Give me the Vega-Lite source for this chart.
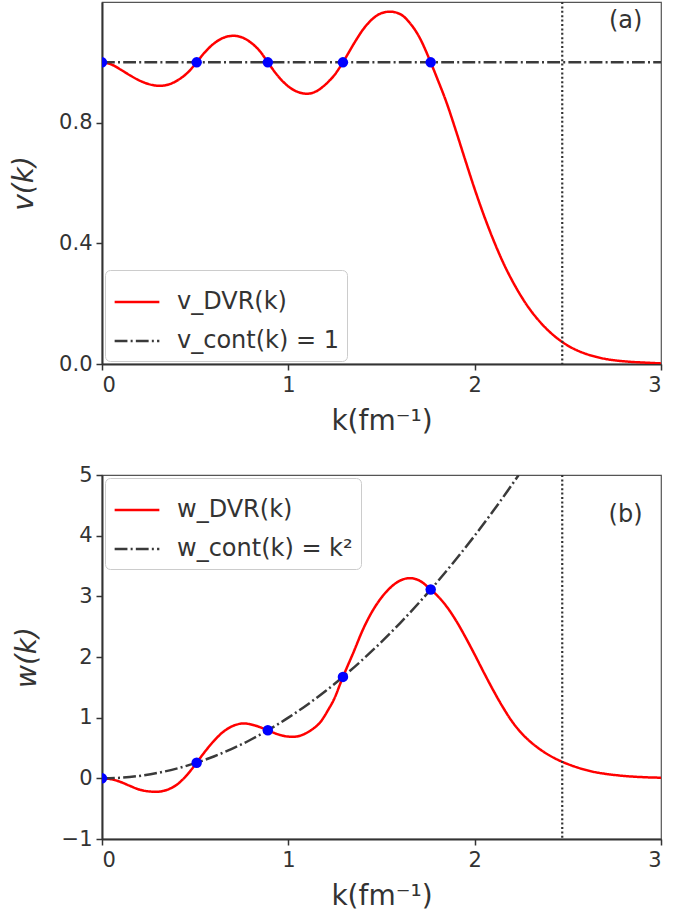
{
  "$schema": "https://vega.github.io/schema/vega-lite/v6.json",
  "padding": {"left": 10, "top": 0, "right": 5, "bottom": 2},
  "spacing": 27,
  "config": {
    "font": "DejaVu Sans",
    "view": {"stroke": "#555555", "strokeWidth": 1.2},
    "axis": {
      "grid": false,
      "domainColor": "#333333",
      "domainWidth": 2,
      "tickColor": "#333333",
      "tickWidth": 1.5,
      "tickSize": 6,
      "labelFontSize": 21,
      "labelColor": "#333333",
      "labelPadding": 4,
      "titleFontSize": 28,
      "titleColor": "#333333",
      "titleFontWeight": "normal"
    },
    "legend": {
      "title": null,
      "fillColor": "white",
      "strokeColor": "#cccccc",
      "cornerRadius": 5,
      "padding": 8,
      "symbolType": "stroke",
      "symbolSize": 2000,
      "symbolStrokeWidth": 2.5,
      "labelFontSize": 24,
      "labelColor": "#333333",
      "labelOffset": 16,
      "labelLimit": 400,
      "rowPadding": 3
    }
  },
  "datasets": {
    "top": [
      {"k": 0, "v": 1.0, "series": "v_DVR(k)"},
      {"k": 0.05, "v": 0.993, "series": "v_DVR(k)"},
      {"k": 0.1, "v": 0.976, "series": "v_DVR(k)"},
      {"k": 0.15, "v": 0.957, "series": "v_DVR(k)"},
      {"k": 0.2, "v": 0.94, "series": "v_DVR(k)"},
      {"k": 0.25, "v": 0.928, "series": "v_DVR(k)"},
      {"k": 0.31, "v": 0.922, "series": "v_DVR(k)"},
      {"k": 0.36, "v": 0.927, "series": "v_DVR(k)"},
      {"k": 0.41, "v": 0.942, "series": "v_DVR(k)"},
      {"k": 0.46, "v": 0.966, "series": "v_DVR(k)"},
      {"k": 0.508, "v": 1.0, "series": "v_DVR(k)"},
      {"k": 0.55, "v": 1.032, "series": "v_DVR(k)"},
      {"k": 0.6, "v": 1.062, "series": "v_DVR(k)"},
      {"k": 0.65, "v": 1.081, "series": "v_DVR(k)"},
      {"k": 0.705, "v": 1.088, "series": "v_DVR(k)"},
      {"k": 0.75, "v": 1.083, "series": "v_DVR(k)"},
      {"k": 0.8, "v": 1.065, "series": "v_DVR(k)"},
      {"k": 0.85, "v": 1.035, "series": "v_DVR(k)"},
      {"k": 0.89, "v": 1.0, "series": "v_DVR(k)"},
      {"k": 0.94, "v": 0.958, "series": "v_DVR(k)"},
      {"k": 1.0, "v": 0.92, "series": "v_DVR(k)"},
      {"k": 1.05, "v": 0.902, "series": "v_DVR(k)"},
      {"k": 1.1, "v": 0.896, "series": "v_DVR(k)"},
      {"k": 1.15, "v": 0.904, "series": "v_DVR(k)"},
      {"k": 1.2, "v": 0.927, "series": "v_DVR(k)"},
      {"k": 1.25, "v": 0.96, "series": "v_DVR(k)"},
      {"k": 1.293, "v": 1.0, "series": "v_DVR(k)"},
      {"k": 1.35, "v": 1.06, "series": "v_DVR(k)"},
      {"k": 1.4, "v": 1.108, "series": "v_DVR(k)"},
      {"k": 1.45, "v": 1.143, "series": "v_DVR(k)"},
      {"k": 1.5, "v": 1.163, "series": "v_DVR(k)"},
      {"k": 1.545, "v": 1.168, "series": "v_DVR(k)"},
      {"k": 1.6, "v": 1.16, "series": "v_DVR(k)"},
      {"k": 1.65, "v": 1.132, "series": "v_DVR(k)"},
      {"k": 1.7, "v": 1.087, "series": "v_DVR(k)"},
      {"k": 1.764, "v": 1.0, "series": "v_DVR(k)"},
      {"k": 1.8, "v": 0.945, "series": "v_DVR(k)"},
      {"k": 1.85, "v": 0.865, "series": "v_DVR(k)"},
      {"k": 1.9, "v": 0.772, "series": "v_DVR(k)"},
      {"k": 1.95, "v": 0.675, "series": "v_DVR(k)"},
      {"k": 2.0, "v": 0.58, "series": "v_DVR(k)"},
      {"k": 2.05, "v": 0.492, "series": "v_DVR(k)"},
      {"k": 2.1, "v": 0.412, "series": "v_DVR(k)"},
      {"k": 2.15, "v": 0.34, "series": "v_DVR(k)"},
      {"k": 2.2, "v": 0.278, "series": "v_DVR(k)"},
      {"k": 2.25, "v": 0.224, "series": "v_DVR(k)"},
      {"k": 2.3, "v": 0.178, "series": "v_DVR(k)"},
      {"k": 2.35, "v": 0.14, "series": "v_DVR(k)"},
      {"k": 2.4, "v": 0.108, "series": "v_DVR(k)"},
      {"k": 2.45, "v": 0.082, "series": "v_DVR(k)"},
      {"k": 2.5, "v": 0.061, "series": "v_DVR(k)"},
      {"k": 2.55, "v": 0.045, "series": "v_DVR(k)"},
      {"k": 2.6, "v": 0.033, "series": "v_DVR(k)"},
      {"k": 2.65, "v": 0.024, "series": "v_DVR(k)"},
      {"k": 2.7, "v": 0.017, "series": "v_DVR(k)"},
      {"k": 2.8, "v": 0.009, "series": "v_DVR(k)"},
      {"k": 2.9, "v": 0.005, "series": "v_DVR(k)"},
      {"k": 3.0, "v": 0.002, "series": "v_DVR(k)"},
      {"k": 0, "v": 1.0, "series": "v_cont(k) = 1"},
      {"k": 3.0, "v": 1.0, "series": "v_cont(k) = 1"}
    ],
    "bottom": [
      {"k": 0, "w": 0, "series": "w_DVR(k)"},
      {"k": 0.05, "w": -0.015, "series": "w_DVR(k)"},
      {"k": 0.1, "w": -0.06, "series": "w_DVR(k)"},
      {"k": 0.15, "w": -0.125, "series": "w_DVR(k)"},
      {"k": 0.2, "w": -0.185, "series": "w_DVR(k)"},
      {"k": 0.25, "w": -0.215, "series": "w_DVR(k)"},
      {"k": 0.29, "w": -0.222, "series": "w_DVR(k)"},
      {"k": 0.33, "w": -0.207, "series": "w_DVR(k)"},
      {"k": 0.37, "w": -0.163, "series": "w_DVR(k)"},
      {"k": 0.41, "w": -0.085, "series": "w_DVR(k)"},
      {"k": 0.46, "w": 0.07, "series": "w_DVR(k)"},
      {"k": 0.508, "w": 0.258, "series": "w_DVR(k)"},
      {"k": 0.55, "w": 0.43, "series": "w_DVR(k)"},
      {"k": 0.6, "w": 0.615, "series": "w_DVR(k)"},
      {"k": 0.65, "w": 0.765, "series": "w_DVR(k)"},
      {"k": 0.7, "w": 0.86, "series": "w_DVR(k)"},
      {"k": 0.76, "w": 0.905, "series": "w_DVR(k)"},
      {"k": 0.82, "w": 0.872, "series": "w_DVR(k)"},
      {"k": 0.89, "w": 0.792, "series": "w_DVR(k)"},
      {"k": 0.95, "w": 0.72, "series": "w_DVR(k)"},
      {"k": 1.0, "w": 0.688, "series": "w_DVR(k)"},
      {"k": 1.03, "w": 0.686, "series": "w_DVR(k)"},
      {"k": 1.07, "w": 0.71, "series": "w_DVR(k)"},
      {"k": 1.12, "w": 0.79, "series": "w_DVR(k)"},
      {"k": 1.17, "w": 0.92, "series": "w_DVR(k)"},
      {"k": 1.22, "w": 1.16, "series": "w_DVR(k)"},
      {"k": 1.24, "w": 1.27, "series": "w_DVR(k)"},
      {"k": 1.293, "w": 1.672, "series": "w_DVR(k)"},
      {"k": 1.35, "w": 2.08, "series": "w_DVR(k)"},
      {"k": 1.4, "w": 2.45, "series": "w_DVR(k)"},
      {"k": 1.45, "w": 2.75, "series": "w_DVR(k)"},
      {"k": 1.5, "w": 2.98, "series": "w_DVR(k)"},
      {"k": 1.55, "w": 3.15, "series": "w_DVR(k)"},
      {"k": 1.6, "w": 3.26, "series": "w_DVR(k)"},
      {"k": 1.65, "w": 3.3, "series": "w_DVR(k)"},
      {"k": 1.7, "w": 3.265, "series": "w_DVR(k)"},
      {"k": 1.764, "w": 3.112, "series": "w_DVR(k)"},
      {"k": 1.8, "w": 3.01, "series": "w_DVR(k)"},
      {"k": 1.85, "w": 2.83, "series": "w_DVR(k)"},
      {"k": 1.9, "w": 2.6, "series": "w_DVR(k)"},
      {"k": 1.95, "w": 2.33, "series": "w_DVR(k)"},
      {"k": 2.0, "w": 2.04, "series": "w_DVR(k)"},
      {"k": 2.05, "w": 1.74, "series": "w_DVR(k)"},
      {"k": 2.1, "w": 1.45, "series": "w_DVR(k)"},
      {"k": 2.15, "w": 1.18, "series": "w_DVR(k)"},
      {"k": 2.2, "w": 0.94, "series": "w_DVR(k)"},
      {"k": 2.25, "w": 0.75, "series": "w_DVR(k)"},
      {"k": 2.3, "w": 0.6, "series": "w_DVR(k)"},
      {"k": 2.35, "w": 0.48, "series": "w_DVR(k)"},
      {"k": 2.4, "w": 0.38, "series": "w_DVR(k)"},
      {"k": 2.45, "w": 0.3, "series": "w_DVR(k)"},
      {"k": 2.5, "w": 0.235, "series": "w_DVR(k)"},
      {"k": 2.55, "w": 0.18, "series": "w_DVR(k)"},
      {"k": 2.6, "w": 0.135, "series": "w_DVR(k)"},
      {"k": 2.65, "w": 0.1, "series": "w_DVR(k)"},
      {"k": 2.7, "w": 0.075, "series": "w_DVR(k)"},
      {"k": 2.8, "w": 0.04, "series": "w_DVR(k)"},
      {"k": 2.9, "w": 0.02, "series": "w_DVR(k)"},
      {"k": 3.0, "w": 0.01, "series": "w_DVR(k)"},
      {"k": 0, "w": 0, "series": "w_cont(k) = k²"},
      {"k": 0.1, "w": 0.01, "series": "w_cont(k) = k²"},
      {"k": 0.2, "w": 0.04, "series": "w_cont(k) = k²"},
      {"k": 0.3, "w": 0.09, "series": "w_cont(k) = k²"},
      {"k": 0.4, "w": 0.16, "series": "w_cont(k) = k²"},
      {"k": 0.5, "w": 0.25, "series": "w_cont(k) = k²"},
      {"k": 0.6, "w": 0.36, "series": "w_cont(k) = k²"},
      {"k": 0.7, "w": 0.49, "series": "w_cont(k) = k²"},
      {"k": 0.8, "w": 0.64, "series": "w_cont(k) = k²"},
      {"k": 0.9, "w": 0.81, "series": "w_cont(k) = k²"},
      {"k": 1.0, "w": 1.0, "series": "w_cont(k) = k²"},
      {"k": 1.1, "w": 1.21, "series": "w_cont(k) = k²"},
      {"k": 1.2, "w": 1.44, "series": "w_cont(k) = k²"},
      {"k": 1.3, "w": 1.69, "series": "w_cont(k) = k²"},
      {"k": 1.4, "w": 1.96, "series": "w_cont(k) = k²"},
      {"k": 1.5, "w": 2.25, "series": "w_cont(k) = k²"},
      {"k": 1.6, "w": 2.56, "series": "w_cont(k) = k²"},
      {"k": 1.7, "w": 2.89, "series": "w_cont(k) = k²"},
      {"k": 1.8, "w": 3.24, "series": "w_cont(k) = k²"},
      {"k": 1.9, "w": 3.61, "series": "w_cont(k) = k²"},
      {"k": 2.0, "w": 4.0, "series": "w_cont(k) = k²"},
      {"k": 2.1, "w": 4.41, "series": "w_cont(k) = k²"},
      {"k": 2.2, "w": 4.84, "series": "w_cont(k) = k²"},
      {"k": 2.236, "w": 5.0, "series": "w_cont(k) = k²"}
    ],
    "mesh": [
      {"k": 0, "v": 1.0, "w": 0},
      {"k": 0.508, "v": 1.0, "w": 0.258},
      {"k": 0.89, "v": 1.0, "w": 0.792},
      {"k": 1.293, "v": 1.0, "w": 1.672},
      {"k": 1.764, "v": 1.0, "w": 3.112}
    ],
    "labels": [
      {"panel": "a", "label": "(a)", "k": 2.81, "y": 1.138},
      {"panel": "b", "label": "(b)", "k": 2.81, "y": 4.34}
    ]
  },
  "vconcat": [
    {
      "width": 559,
      "height": 362,
      "layer": [
        {
          "data": {"name": "top"},
          "mark": {"type": "line", "strokeWidth": 2.5, "interpolate": "monotone", "clip": true},
          "encoding": {
            "x": {"field": "k", "type": "quantitative", "scale": {"domain": [0, 3], "nice": false}, "axis": {"values": [0, 1, 2, 3], "format": "d", "title": "k(fm⁻¹)", "titlePadding": 12}},
            "y": {"field": "v", "type": "quantitative", "scale": {"domain": [0, 1.2], "nice": false}, "axis": {"values": [0, 0.4, 0.8], "format": ".1f", "title": "v(k)", "titleFontStyle": "italic", "titlePadding": 20}},
            "color": {"field": "series", "type": "nominal", "scale": {"domain": ["v_DVR(k)", "v_cont(k) = 1"], "range": ["#ff0000", "#3a3a3a"]}, "legend": {"orient": "bottom-left", "offset": 3}},
            "strokeDash": {"field": "series", "type": "nominal", "scale": {"domain": ["v_DVR(k)", "v_cont(k) = 1"], "range": [[1, 0], [12.8, 3.2, 2, 3.2]]}, "legend": {"orient": "bottom-left", "offset": 3}}
          }
        },
        {
          "data": {"name": "labels"},
          "mark": {"type": "rule", "strokeDash": [2, 2.4], "strokeWidth": 2.2, "color": "#333333"},
          "transform": [{"filter": "datum.panel == 'a'"}],
          "encoding": {"x": {"datum": 2.47}}
        },
        {
          "data": {"name": "mesh"},
          "mark": {"type": "point", "filled": true, "size": 110, "color": "#0000ff", "opacity": 1, "clip": true},
          "encoding": {"x": {"field": "k", "type": "quantitative"}, "y": {"field": "v", "type": "quantitative"}}
        },
        {
          "data": {"name": "labels"},
          "transform": [{"filter": "datum.panel == 'a'"}],
          "mark": {"type": "text", "fontSize": 24, "fill": "#333333"},
          "encoding": {"x": {"field": "k", "type": "quantitative"}, "y": {"field": "y", "type": "quantitative"}, "text": {"field": "label"}}
        }
      ]
    },
    {
      "width": 559,
      "height": 364,
      "layer": [
        {
          "data": {"name": "bottom"},
          "mark": {"type": "line", "strokeWidth": 2.5, "interpolate": "monotone", "clip": true},
          "encoding": {
            "x": {"field": "k", "type": "quantitative", "scale": {"domain": [0, 3], "nice": false}, "axis": {"values": [0, 1, 2, 3], "format": "d", "title": "k(fm⁻¹)", "titlePadding": 12}},
            "y": {"field": "w", "type": "quantitative", "scale": {"domain": [-1, 5], "nice": false}, "axis": {"values": [-1, 0, 1, 2, 3, 4, 5], "format": "d", "title": "w(k)", "titleFontStyle": "italic", "titlePadding": 20}},
            "color": {"field": "series", "type": "nominal", "scale": {"domain": ["w_DVR(k)", "w_cont(k) = k²"], "range": ["#ff0000", "#3a3a3a"]}, "legend": {"orient": "top-left", "offset": 3}},
            "strokeDash": {"field": "series", "type": "nominal", "scale": {"domain": ["w_DVR(k)", "w_cont(k) = k²"], "range": [[1, 0], [12.8, 3.2, 2, 3.2]]}, "legend": {"orient": "top-left", "offset": 3}}
          }
        },
        {
          "data": {"name": "labels"},
          "mark": {"type": "rule", "strokeDash": [2, 2.4], "strokeWidth": 2.2, "color": "#333333"},
          "transform": [{"filter": "datum.panel == 'b'"}],
          "encoding": {"x": {"datum": 2.47}}
        },
        {
          "data": {"name": "mesh"},
          "mark": {"type": "point", "filled": true, "size": 110, "color": "#0000ff", "opacity": 1, "clip": true},
          "encoding": {"x": {"field": "k", "type": "quantitative"}, "y": {"field": "w", "type": "quantitative"}}
        },
        {
          "data": {"name": "labels"},
          "transform": [{"filter": "datum.panel == 'b'"}],
          "mark": {"type": "text", "fontSize": 24, "fill": "#333333"},
          "encoding": {"x": {"field": "k", "type": "quantitative"}, "y": {"field": "y", "type": "quantitative"}, "text": {"field": "label"}}
        }
      ]
    }
  ],
  "resolve": {"scale": {"color": "independent", "strokeDash": "independent"}}
}
